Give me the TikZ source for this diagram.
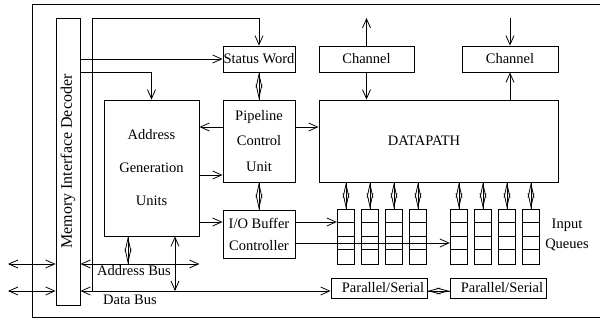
\documentclass[tikz,border=0pt]{standalone}
\usepackage{fontspec}
\setmainfont{Liberation Serif}
\usetikzlibrary{arrows.meta}
\begin{document}
\begin{tikzpicture}[x=1pt,y=-1pt, line width=0.8pt,
  font=\fontsize{14.5}{17}\selectfont,
  blk/.style={draw, inner sep=0pt, anchor=center, align=center},
  arr/.style={-{Straight Barb[length=9pt,width=8pt]}},
  dbl/.style={{Straight Barb[length=9pt,width=8pt]}-{Straight Barb[length=9pt,width=8pt]}},
  dia/.style={{Straight Barb[length=#1,width=6pt]}-{Straight Barb[length=#1,width=6pt]}, postaction={draw, arrows=-}},
  dia/.default=13.5pt,
  queue/.style={draw, minimum width=17.5pt, minimum height=55pt, inner sep=0pt}]
\useasboundingbox (0,0) rectangle (600,320);
\clip (0,0) rectangle (600,320);
% frame
\node[blk, minimum width=571pt, minimum height=313pt] (frame) at (317.5,160.5) {};
% boxes
\node[blk, minimum width=24pt, minimum height=287pt] (dec) at (68,161.5) {};
\node[rotate=90, font=\fontsize{16}{19}\selectfont] (dectext) at (dec.center) {Memory Interface Decoder};
\node[blk, minimum width=95pt, minimum height=136pt, font=\fontsize{14.5}{33}\selectfont] (agu) at (151.5,168) {Address\\Generation\\Units};
\node[blk, minimum width=72pt, minimum height=26pt] (sw) at (259,59) {Status Word};
\node[blk, minimum width=95pt, minimum height=26pt] (ch1) at (366.5,59) {Channel};
\node[blk, minimum width=96pt, minimum height=26pt] (ch2) at (510,59) {Channel};
\node[blk, minimum width=72pt, minimum height=82pt, font=\fontsize{14.5}{25.5}\selectfont] (pcu) at (259,141) {Pipeline\\Control\\Unit};
\node[blk, minimum width=239pt, minimum height=82pt] (dp) at (438.5,141) {DATAPATH\hspace*{29pt}};
\node[blk, minimum width=72pt, minimum height=48pt, font=\fontsize{14.5}{22}\selectfont] (iob) at (259,234) {I/O Buffer\\Controller};
\node[blk, minimum width=96pt, minimum height=20pt] (ps1) at (379,288) {\hspace*{8pt}Parallel/Serial};
\node[blk, minimum width=96pt, minimum height=20pt] (ps2) at (498,288) {\hspace*{8pt}Parallel/Serial};
% queues
\foreach \x [count=\i] in {346,370,394,418,459,483,507,531} {
  \node[queue] (q\i) at (\x,236.5) {};
  \foreach \s in {13.75,27.5,41.25} {
    \draw ([yshift=-\s pt]q\i.north west) -- ([yshift=-\s pt]q\i.north east);
  }
  \draw[dia] (dp.south -| q\i.north) -- (q\i.north);
}
% labels
\node[align=center, font=\fontsize{14.5}{20}\selectfont] (iq) at (567,235) {Input\\Queues};
\node (abl) at (134,271) {Address Bus};
\node (dbl) at (130,300) {Data Bus};
% coordinates
\coordinate (ab) at (0,264);
\coordinate (db) at (0,291);
\coordinate (L1) at (8,264);
\coordinate (L2) at (8,291);
\coordinate (top) at (0,18);
\coordinate (v1) at (92,291);
\coordinate (v2) at (92,18);
\coordinate (y72) at (0,72);
\coordinate (y127) at (0,127);
\coordinate (y175) at (0,175);
\coordinate (y222) at (0,222);
\coordinate (y243) at (0,243);
\coordinate (xa) at (128,0);
\coordinate (xb) at (175,0);
% connectors
\draw[dbl] (L1) -- (dec.west |- ab);
\draw[dbl] (L2) -- (dec.west |- db);
\draw[dbl] (dec.east |- ab) -- (agu.east |- ab);
\draw[dbl] (dec.east |- db) -- (ps1.west |- db);
\draw[arr] (v1) -- (v2) -| (sw.north);
\draw[arr] (dec.east |- sw.west) -- (sw.west);
\draw[arr] (dec.east |- y72) -| (agu.north);
\draw[dia] (agu.south -| xa) -- (ab -| xa);
\draw[dbl] (agu.south -| xb) -- (db -| xb);
\draw[dia] (sw.south) -- (pcu.north);
\draw[arr] (pcu.west |- y127) -- (agu.east |- y127);
\draw[arr] (agu.east |- y175) -- (pcu.west |- y175);
\draw[arr] (pcu.east |- y127) -- (dp.west |- y127);
\draw[dia] (pcu.south) -- (iob.north);
\draw[arr] (agu.east |- y222) -- (iob.west |- y222);
\draw[arr] (iob.east |- y222) -- (q1.west |- y222);
\draw[arr] (iob.east |- y243) -- (q5.west |- y243);
\draw[arr] (ch1.north) -- (ch1.north |- top);
\draw[arr] (ch1.south) -- (dp.north -| ch1.south);
\draw[arr] (ch2.north |- top) -- (ch2.north);
\draw[arr] (dp.north -| ch2.south) -- (ch2.south);
\draw[dia=11.5pt] (ps1.east |- db) -- (ps2.west |- db);
\end{tikzpicture}
\end{document}
